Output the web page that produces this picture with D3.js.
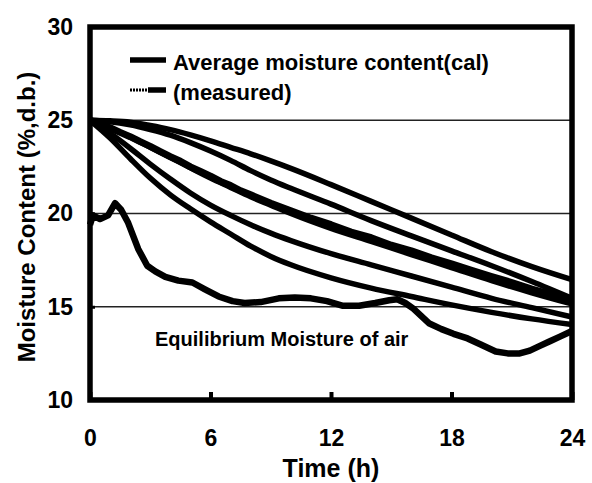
<!DOCTYPE html>
<html>
<head>
<meta charset="utf-8">
<script src="https://cdn.jsdelivr.net/npm/d3@7"></script>
<style>
  body { margin: 0; background: #fff; }
  text { font-family: "Liberation Sans", Arial, sans-serif; font-weight: bold; }
</style>
</head>
<body>
<div id="chart"></div>
<script>
// values

// calculated average moisture content, 5 runs
const calcHours = [0, 1, 2, 3, 4, 5, 6, 7, 8, 9, 10, 12, 14, 16, 18, 20, 22, 24];
const calcA = [25, 24.97, 24.9, 24.72, 24.5, 24.22, 23.9, 23.55, 23.2, 22.82, 22.42, 21.55, 20.65, 19.75, 18.85, 17.95, 17.15, 16.45];
const calcB = [25, 24.92, 24.75, 24.5, 24.2, 23.8, 23.35, 22.85, 22.3, 21.8, 21.35, 20.5, 19.62, 18.8, 18.0, 17.2, 16.35, 15.45];
const calcC = [25, 24.6, 24.1, 23.55, 23.0, 22.45, 21.9, 21.4, 20.9, 20.45, 20.0, 19.2, 18.5, 17.8, 17.1, 16.4, 15.75, 15.15];
const calcD = [25, 24.3, 23.5, 22.65, 21.85, 21.1, 20.45, 19.9, 19.4, 18.95, 18.55, 17.85, 17.25, 16.65, 16.05, 15.45, 14.95, 14.45];
const calcE = [25, 24.05, 22.95, 21.9, 21.0, 20.25, 19.55, 18.9, 18.25, 17.7, 17.25, 16.55, 16.0, 15.55, 15.1, 14.7, 14.35, 14.05];

// measured average moisture content
const measHours = [0, 0.5, 1, 1.5, 2, 2.5, 3, 3.5, 4, 4.5, 5, 5.5, 6, 6.5, 7, 7.5, 8, 9, 10, 11, 12, 13, 14, 15, 16, 17, 18, 19, 20, 21, 22, 23, 24];
const measValues = [25, 24.8, 24.6, 24.35, 24.12, 23.85, 23.6, 23.32, 23.05, 22.8, 22.5, 22.25, 22.0, 21.72, 21.5, 21.22, 21.0, 20.55, 20.15, 19.75, 19.4, 19.0, 18.7, 18.3, 18.0, 17.62, 17.3, 16.95, 16.62, 16.3, 15.95, 15.65, 15.3];

// equilibrium moisture of air (measured)
const airHours = [0, 0.15, 0.5, 0.9, 1.25, 1.55, 1.9, 2.4, 2.85, 3.25, 3.75, 4.4, 5.1, 5.7, 6.4, 7.1, 7.7, 8.5, 9.4, 10.2, 11.0, 11.8, 12.6, 13.4, 14.2, 14.9, 15.3, 15.7, 16.1, 16.5, 16.9, 17.5, 18.1, 18.8, 19.4, 20.2, 20.8, 21.4, 21.9, 22.4, 22.9, 23.4, 24];
const airValues = [19.4, 19.9, 19.7, 19.9, 20.55, 20.2, 19.5, 18.1, 17.2, 16.9, 16.6, 16.4, 16.3, 15.95, 15.55, 15.3, 15.2, 15.25, 15.45, 15.5, 15.45, 15.3, 15.05, 15.05, 15.2, 15.35, 15.4, 15.2, 14.9, 14.5, 14.1, 13.8, 13.55, 13.3, 13.0, 12.6, 12.5, 12.5, 12.65, 12.9, 13.15, 13.4, 13.7];

const xTicks = [0, 6, 12, 18, 24];
const yTicks = [10, 15, 20, 25, 30];
const gridValues = [15, 20, 25];

// size
const width = 592;
const height = 483;
const margin = {left: 90, right: 20, top: 27, bottom: 83};

const xScale = d3.scaleLinear().domain([0, 24]).range([margin.left, width - margin.right]);
const yScale = d3.scaleLinear().domain([10, 30]).range([height - margin.bottom, margin.top]);

const svg = d3.select("#chart")
  .append("svg")
  .attr("width", width)
  .attr("height", height);

// grid lines
svg.append("g")
  .selectAll("line")
  .data(gridValues)
  .enter()
  .append("line")
    .attr("x1", xScale(0))
    .attr("x2", xScale(24))
    .attr("y1", d => yScale(d))
    .attr("y2", d => yScale(d))
    .attr("stroke", "#222")
    .attr("stroke-width", 1.3);

const line = d3.line()
  .x(d => xScale(d[0]))
  .y(d => yScale(d[1]));

const smooth = d3.line()
  .x(d => xScale(d[0]))
  .y(d => yScale(d[1]))
  .curve(d3.curveMonotoneX);

// calculated curves
[calcA, calcB, calcC, calcD, calcE].forEach(function(series) {
  svg.append("path")
    .datum(calcHours.map((h, i) => [h, series[i]]))
    .attr("fill", "none")
    .attr("stroke", "#000")
    .attr("stroke-width", 5.5)
    .attr("d", smooth);
});

// measured average
svg.append("path")
  .datum(measHours.map((h, i) => [h, measValues[i]]))
  .attr("fill", "none")
  .attr("stroke", "#000")
  .attr("stroke-width", 7)
  .attr("stroke-linejoin", "round")
  .attr("d", line);

// equilibrium moisture of air
svg.append("path")
  .datum(airHours.map((h, i) => [h, airValues[i]]))
  .attr("fill", "none")
  .attr("stroke", "#000")
  .attr("stroke-width", 6.5)
  .attr("stroke-linejoin", "round")
  .attr("d", line);

// x axis
svg.append("g")
  .attr("transform", `translate(0,${yScale(10)})`)
  .call(d3.axisBottom(xScale).tickValues(xTicks).tickSizeInner(-8).tickSizeOuter(0).tickPadding(30))
  .attr("font-size", 23)
  .attr("font-family", "Liberation Sans, Arial, sans-serif")
  .call(g => g.select(".domain").remove())
  .call(g => g.selectAll(".tick line").attr("stroke-width", 4));

// y axis
svg.append("g")
  .attr("transform", `translate(${xScale(0)},0)`)
  .call(d3.axisLeft(yScale).tickValues(yTicks).tickSizeInner(-5).tickSizeOuter(0).tickPadding(17))
  .attr("font-size", 23)
  .attr("font-family", "Liberation Sans, Arial, sans-serif")
  .call(g => g.select(".domain").remove())
  .call(g => g.selectAll(".tick line").attr("stroke-width", 3));

// frame
svg.append("rect")
  .attr("x", xScale(0))
  .attr("y", yScale(30))
  .attr("width", xScale(24) - xScale(0))
  .attr("height", yScale(10) - yScale(30))
  .attr("fill", "none")
  .attr("stroke", "#000")
  .attr("stroke-width", 5.5);

// axis titles
svg.append("text")
  .attr("x", 331)
  .attr("y", 477)
  .attr("text-anchor", "middle")
  .attr("font-size", 25)
  .text("Time (h)");

svg.append("text")
  .attr("transform", "translate(35,217) rotate(-90)")
  .attr("text-anchor", "middle")
  .attr("font-size", 24)
  .text("Moisture Content (%,d.b.)");

// legend
svg.append("line")
  .attr("x1", 130).attr("x2", 166)
  .attr("y1", 60).attr("y2", 60)
  .attr("stroke", "#000")
  .attr("stroke-width", 5.5);

svg.append("text")
  .attr("x", 173)
  .attr("y", 70)
  .attr("font-size", 22)
  .text("Average moisture content(cal)");

svg.append("line")
  .attr("x1", 130).attr("x2", 148)
  .attr("y1", 90).attr("y2", 90)
  .attr("stroke", "#000")
  .attr("stroke-width", 3)
  .attr("stroke-dasharray", "2,1");

svg.append("line")
  .attr("x1", 148).attr("x2", 166)
  .attr("y1", 90).attr("y2", 90)
  .attr("stroke", "#000")
  .attr("stroke-width", 5.5);

svg.append("text")
  .attr("x", 173)
  .attr("y", 100)
  .attr("font-size", 22)
  .text("(measured)");

svg.append("text")
  .attr("x", 155)
  .attr("y", 346)
  .attr("font-size", 20)
  .text("Equilibrium Moisture of air");
</script>
</body>
</html>
